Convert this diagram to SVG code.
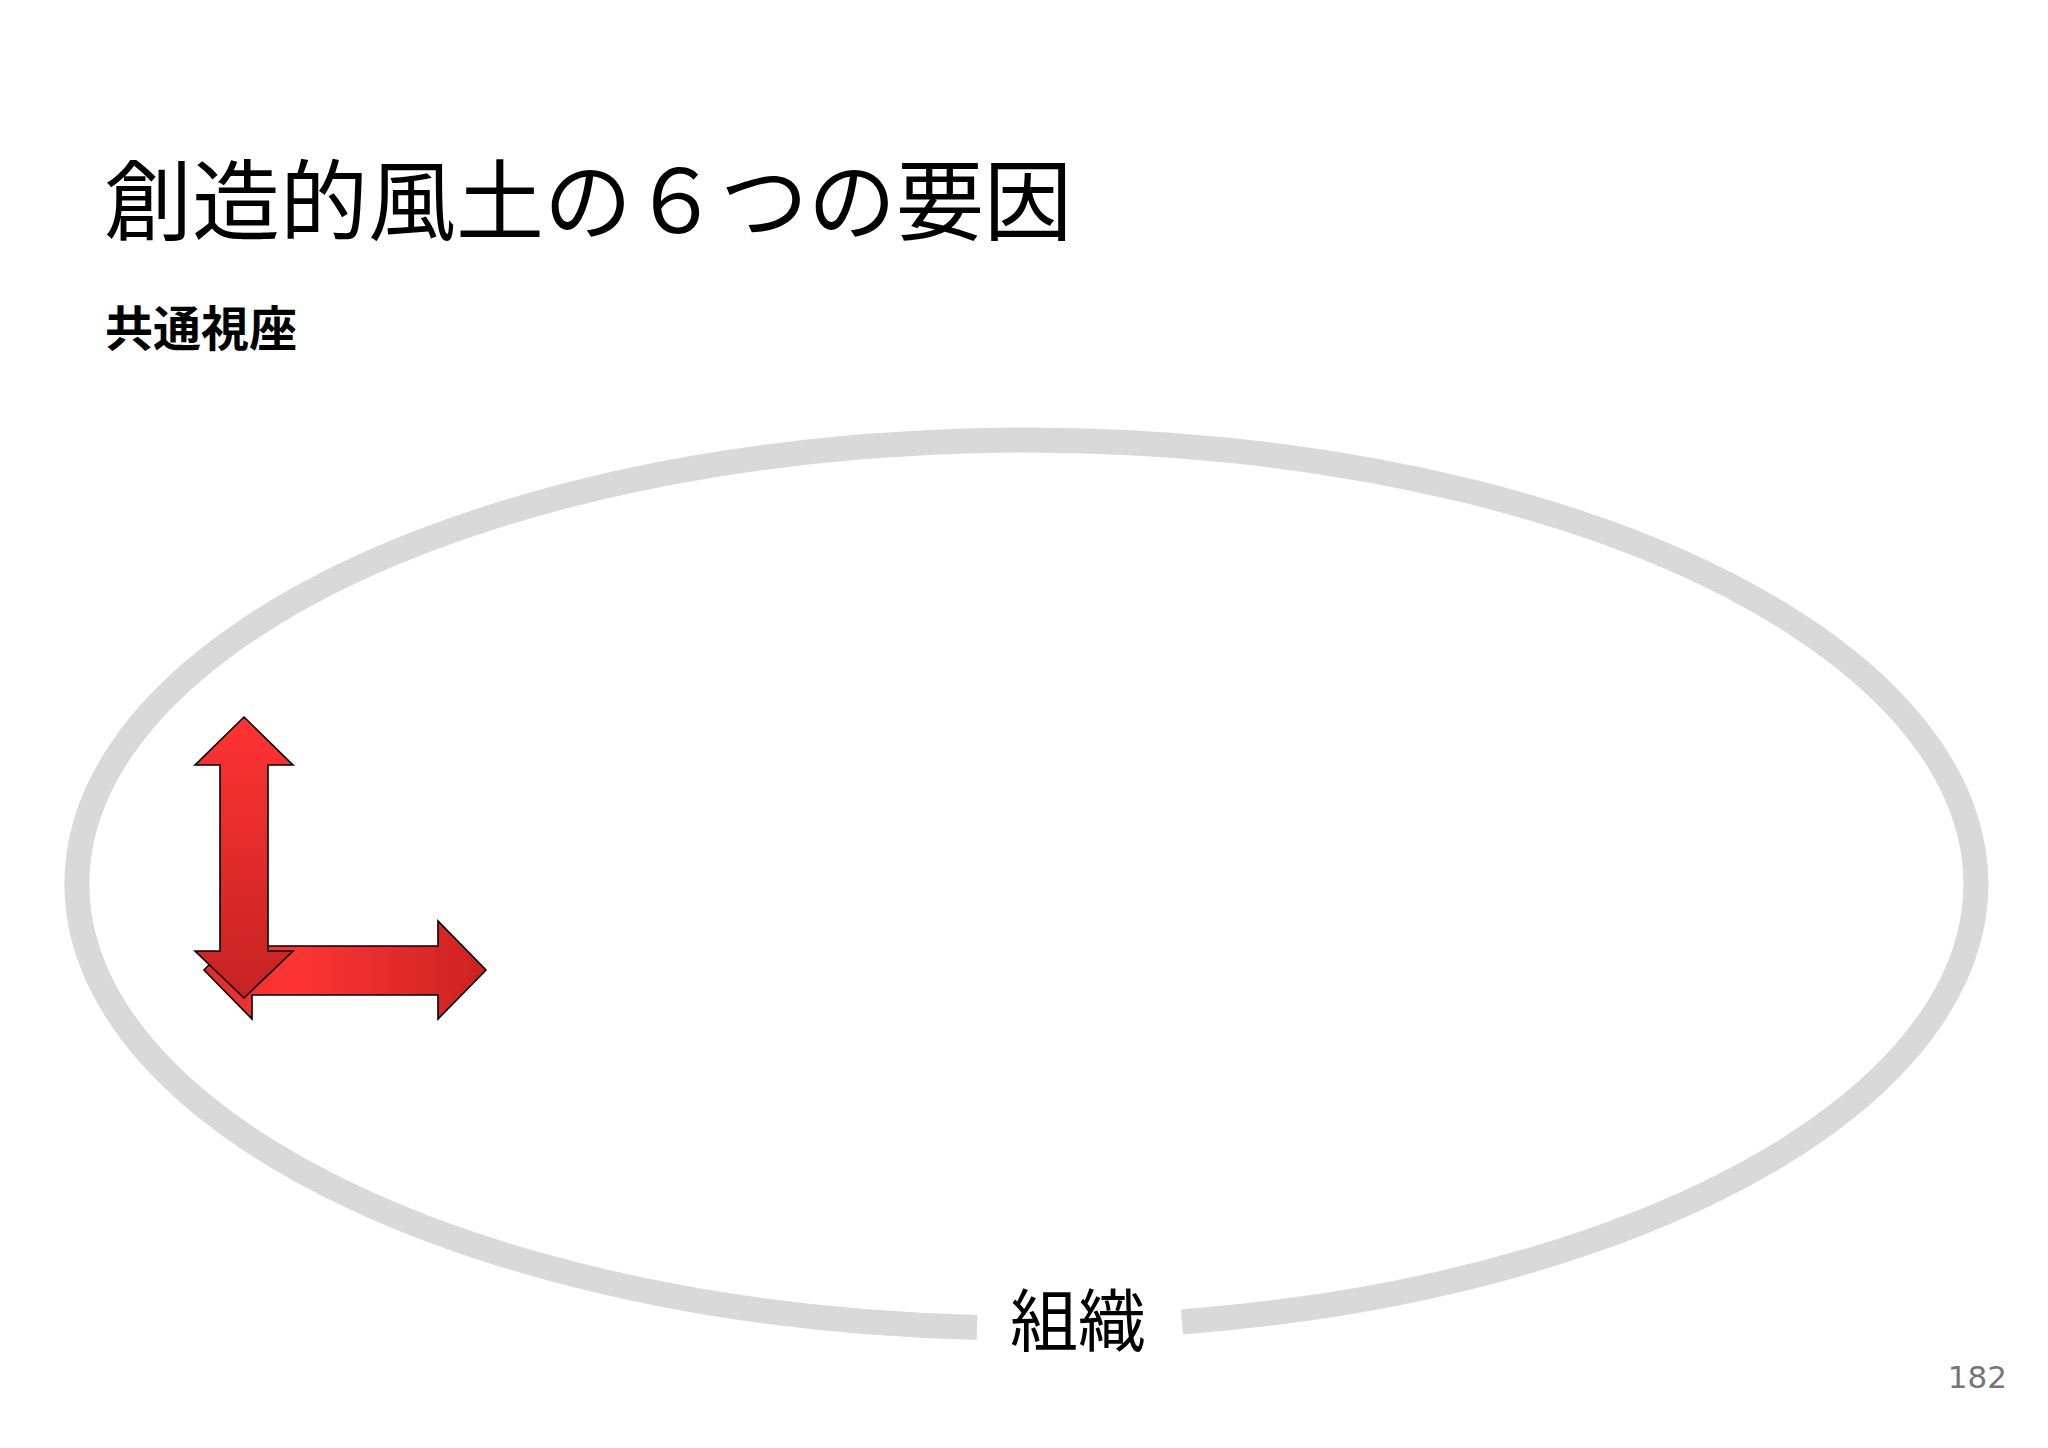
<svg xmlns="http://www.w3.org/2000/svg" width="2048" height="1448" viewBox="0 0 2048 1448">
  <style>
    .title { font-family: "Liberation Serif", "Noto Sans CJK JP", serif; font-size: 88px; fill: #000; }
    .sub { font-family: "Liberation Sans", "Noto Sans CJK JP", sans-serif; font-size: 48px; font-weight: bold; fill: #000; }
    .label { font-family: "Liberation Sans", "Noto Sans CJK JP", sans-serif; font-size: 68px; fill: #000; }
    .page { font-family: "DejaVu Sans", sans-serif; font-size: 31px; fill: #767676; }
    .arrow { stroke: #000; stroke-width: 1.6; stroke-linejoin: miter; }
  </style>
  <defs>
    <linearGradient id="gv" x1="0" y1="717" x2="0" y2="998" gradientUnits="userSpaceOnUse">
      <stop offset="0" stop-color="#ff3333"/>
      <stop offset="1" stop-color="#c62222"/>
    </linearGradient>
    <linearGradient id="gh" x1="204" y1="0" x2="486" y2="0" gradientUnits="userSpaceOnUse">
      <stop offset="0" stop-color="#e02a2a"/>
      <stop offset="0.3" stop-color="#ff3535"/>
      <stop offset="1" stop-color="#cc2222"/>
    </linearGradient>
  </defs>
  <rect width="2048" height="1448" fill="#ffffff"/>

  <g id="title">
    <text class="title" x="104" y="233">創造的風土の６つの要因</text>
  </g>
  <g id="subtitle">
    <text class="sub" x="105" y="346">共通視座</text>
  </g>

  <g id="organization">
    <path d="M 977 1327.4 A 949.5 444 0 1 1 1182 1322" fill="none" stroke="#d9d9d9" stroke-width="25"/>
    <text class="label" x="1078" y="1346" text-anchor="middle">組織</text>
  </g>

  <g id="arrows">
    <polygon class="arrow" fill="url(#gh)" points="204,970 252,921 252,946 438,946 438,921 486,970 438,1019 438,995 252,995 252,1019"/>
    <polygon class="arrow" fill="url(#gv)" points="244,717 293,765 268,765 268,951 293,951 244,998 195,951 220,951 220,765 195,765"/>
  </g>

  <g id="page-number">
    <text class="page" x="2007" y="1388" text-anchor="end">182</text>
  </g>
</svg>
